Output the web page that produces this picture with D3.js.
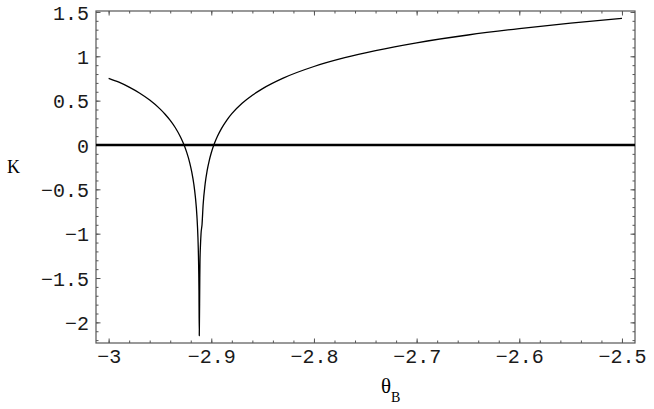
<!DOCTYPE html>
<html><head><meta charset="utf-8">
<script src="https://cdn.jsdelivr.net/npm/d3@7"></script>
<style>
html,body{margin:0;padding:0;background:#fff;}
svg{display:block;}
</style></head>
<body>
<svg id="chart" width="654" height="409"></svg>
<script>
// Data
const theta = [-3.000, -2.990, -2.980, -2.970, -2.960, -2.950, -2.945, -2.940, -2.935, -2.930, -2.927, -2.924,
  -2.921, -2.919, -2.917, -2.9155, -2.914, -2.913, -2.9125, -2.912, -2.9117,
  -2.9112, -2.911, -2.9105, -2.910, -2.909, -2.908, -2.906, -2.904, -2.902, -2.900, -2.897, -2.894, -2.890,
  -2.885, -2.880, -2.870, -2.860, -2.850, -2.830, -2.800, -2.770, -2.740, -2.700, -2.650, -2.600, -2.550, -2.500];
const K = [0.752, 0.708, 0.652, 0.586, 0.506, 0.407, 0.347, 0.277, 0.194, 0.090, 0.013, -0.081,
  -0.201, -0.306, -0.443, -0.586, -0.802, -1.047, -1.256, -1.640, -2.150,
  -1.500, -1.300, -1.120, -1.000, -0.893, -0.682, -0.439, -0.287, -0.176, -0.088, 0.016, 0.098, 0.188,
  0.278, 0.353, 0.470, 0.561, 0.636, 0.754, 0.885, 0.984, 1.064, 1.152, 1.240, 1.312, 1.374, 1.428];
const xMajorTicks = [-3, -2.9, -2.8, -2.7, -2.6, -2.5];
const xMinorTicks = [-3, -2.98, -2.96, -2.94, -2.92, -2.9, -2.88, -2.86, -2.84, -2.82, -2.8, -2.78, -2.76, -2.74, -2.72,
  -2.7, -2.68, -2.66, -2.64, -2.62, -2.6, -2.58, -2.56, -2.54, -2.52, -2.5];
const yMajorTicks = [-2, -1.5, -1, -0.5, 0, 0.5, 1, 1.5];
const yMinorTicks = [-2.2, -2.1, -2, -1.9, -1.8, -1.7, -1.6, -1.5, -1.4, -1.3, -1.2, -1.1, -1, -0.9, -0.8, -0.7, -0.6, -0.5,
  -0.4, -0.3, -0.2, -0.1, 0, 0.1, 0.2, 0.3, 0.4, 0.5, 0.6, 0.7, 0.8, 0.9, 1, 1.1, 1.2, 1.3, 1.4, 1.5];
const xLabel = "θ", xLabelSub = "B", yLabel = "K";

const svg = d3.select("#chart");
const L = 96, R = 635, T = 11, B = 343;
const x = d3.scaleLinear().domain([-3.0123, -2.4873]).range([L, R]);
const y = d3.scaleLinear().domain([-2.2326, 1.5107]).range([B, T]);

const fmt = d => String(d).replace("-", "\u2212");
const tickFont = "Liberation Mono";
const serifFont = "Liberation Serif";
const frameColor = "#555";

function styleAxis(g, labels) {
  g.attr("font-family", tickFont).attr("font-size", 20);
  g.select(".domain").remove();
  g.selectAll(".tick line").attr("stroke", frameColor).attr("stroke-width", 1);
  if (labels) {
    g.selectAll(".tick text").attr("font-family", tickFont).attr("font-size", 20).attr("fill", "#1a1a1a");
  } else {
    g.selectAll(".tick text").remove();
  }
}

// minor ticks (inward)
svg.append("g").attr("transform", `translate(0,${B})`).call(d3.axisBottom(x).tickValues(xMinorTicks).tickSize(-2.5)).call(g => styleAxis(g, false));
svg.append("g").attr("transform", `translate(0,${T})`).call(d3.axisTop(x).tickValues(xMinorTicks).tickSize(-2.5)).call(g => styleAxis(g, false));
svg.append("g").attr("transform", `translate(${L},0)`).call(d3.axisLeft(y).tickValues(yMinorTicks).tickSize(-2.5)).call(g => styleAxis(g, false));
svg.append("g").attr("transform", `translate(${R},0)`).call(d3.axisRight(y).tickValues(yMinorTicks).tickSize(-2.5)).call(g => styleAxis(g, false));

// major ticks
const xb = svg.append("g").attr("transform", `translate(0,${B})`)
  .call(d3.axisBottom(x).tickValues(xMajorTicks).tickSize(-4.5).tickFormat(fmt)).call(g => styleAxis(g, true));
xb.selectAll(".tick text").attr("dy", null).attr("y", 20);
svg.append("g").attr("transform", `translate(0,${T})`).call(d3.axisTop(x).tickValues(xMajorTicks).tickSize(-4.5)).call(g => styleAxis(g, false));
const yl = svg.append("g").attr("transform", `translate(${L},0)`)
  .call(d3.axisLeft(y).tickValues(yMajorTicks).tickSize(-4.5).tickFormat(fmt)).call(g => styleAxis(g, true));
yl.selectAll(".tick text").attr("x", -7).attr("dy", "0.36em");
svg.append("g").attr("transform", `translate(${R},0)`).call(d3.axisRight(y).tickValues(yMajorTicks).tickSize(-4.5)).call(g => styleAxis(g, false));

// frame
svg.append("rect").attr("x", L).attr("y", T).attr("width", R - L).attr("height", B - T)
  .attr("fill", "none").attr("stroke", frameColor).attr("stroke-width", 1.2);

// zero line
svg.append("line").attr("x1", L).attr("x2", R).attr("y1", y(0)).attr("y2", y(0))
  .attr("stroke", "#000").attr("stroke-width", 2.6);

// curve
const pts = theta.map((t, i) => [t, K[i]]);
svg.append("path").datum(pts)
  .attr("d", d3.line().x(d => x(d[0])).y(d => y(d[1])).curve(d3.curveMonotoneX))
  .attr("fill", "none").attr("stroke", "#000").attr("stroke-width", 1.3);

// axis labels
svg.append("text").attr("x", 7).attr("y", 173).attr("font-family", serifFont)
  .attr("font-size", 18).attr("fill", "#000").text(yLabel);
const xt = svg.append("text").attr("x", 381).attr("y", 393).attr("font-family", serifFont)
  .attr("font-size", 21).attr("fill", "#000");
xt.append("tspan").text(xLabel);
xt.append("tspan").attr("font-size", 14).attr("dy", 9).text(xLabelSub);
</script>
</body></html>
